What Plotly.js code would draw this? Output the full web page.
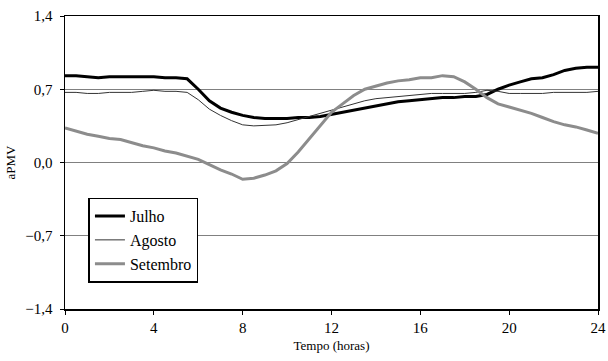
<!DOCTYPE html>
<html>
<head>
<meta charset="utf-8">
<script src="https://cdn.plot.ly/plotly-3.0.1.min.js"></script>
<style>html,body{margin:0;padding:0;background:#fff}#chart{width:608px;height:361px}</style>
</head>
<body>
<div id="chart"></div>
<script>
const hours = [0,0.5,1,1.5,2,2.5,3,3.5,4,4.5,5,5.5,6,6.5,7,7.5,8,8.5,9,9.5,10,10.5,11,11.5,12,12.5,13,13.5,14,14.5,15,15.5,16,16.5,17,17.5,18,18.5,19,19.5,20,20.5,21,21.5,22,22.5,23,23.5,24];
const julho = [0.83,0.83,0.82,0.81,0.82,0.82,0.82,0.82,0.82,0.81,0.81,0.80,0.70,0.59,0.52,0.48,0.45,0.43,0.42,0.42,0.42,0.43,0.43,0.44,0.46,0.48,0.50,0.52,0.54,0.56,0.58,0.59,0.60,0.61,0.62,0.62,0.63,0.63,0.65,0.70,0.74,0.77,0.80,0.81,0.84,0.88,0.90,0.91,0.91];
const agosto = [0.67,0.67,0.66,0.66,0.67,0.67,0.67,0.68,0.69,0.68,0.68,0.67,0.60,0.51,0.45,0.40,0.36,0.35,0.355,0.36,0.38,0.41,0.44,0.47,0.50,0.53,0.56,0.59,0.61,0.62,0.63,0.64,0.65,0.66,0.66,0.66,0.66,0.67,0.69,0.68,0.66,0.66,0.66,0.66,0.67,0.67,0.67,0.67,0.68];
const setembro = [0.33,0.30,0.27,0.25,0.23,0.22,0.19,0.16,0.14,0.11,0.09,0.06,0.03,-0.02,-0.07,-0.11,-0.16,-0.15,-0.12,-0.08,-0.01,0.10,0.23,0.36,0.48,0.56,0.64,0.70,0.73,0.76,0.78,0.79,0.81,0.81,0.83,0.82,0.77,0.70,0.62,0.56,0.53,0.50,0.47,0.43,0.39,0.36,0.34,0.31,0.28];
const seriesNames = ["Julho","Agosto","Setembro"];
const xTicks = [0,4,8,12,16,20,24];
const yTicks = [-1.4,-0.7,0,0.7,1.4];

const fam = "'Liberation Serif', serif";
const font = {family:fam, size:15, color:"#000"};
const traces = [
  {x:hours, y:julho, name:seriesNames[0], mode:"lines", line:{color:"#000", width:3}, legendgroup:"a"},
  {x:hours, y:agosto, name:seriesNames[1], mode:"lines", line:{color:"#333", width:1}, legendgroup:"b"},
  {x:hours, y:setembro, name:seriesNames[2], mode:"lines", line:{color:"#8c8c8c", width:3}, legendgroup:"c"}
];
const layout = {
  width:608, height:361,
  margin:{l:65, r:10, t:16, b:52},
  paper_bgcolor:"#fff", plot_bgcolor:"#fff",
  font:font,
  separators:", ",
  showlegend:true,
  legend:{x:0.044, y:0.38, xanchor:"left", yanchor:"top", bgcolor:"#fff", bordercolor:"#000", borderwidth:1.5,
    font:{family:fam, size:16, color:"#000"}, tracegroupgap:0, itemwidth:30},
  xaxis:{range:[0,24], tickvals:xTicks, ticks:"outside", ticklen:4, tickcolor:"#000", showgrid:false, zeroline:false,
    showline:true, linecolor:"#000", linewidth:1.5, mirror:true, tickfont:{family:fam, size:15, color:"#000"},
    title:{text:"Tempo (horas)", font:{family:fam, size:13, color:"#000"}, standoff:6}},
  yaxis:{range:[-1.4,1.4], tickvals:yTicks, tickformat:".1f", ticks:"outside", ticklen:4, tickcolor:"#000",
    showgrid:true, gridcolor:"#808080", gridwidth:1, zeroline:false, ticklabelstandoff:4,
    showline:true, linecolor:"#000", linewidth:1.5, mirror:true, tickfont:{family:fam, size:15, color:"#000"},
    title:{text:"aPMV", font:{family:fam, size:13, color:"#000"}, standoff:6}}
};
Plotly.newPlot("chart", traces, layout, {staticPlot:true, displayModeBar:false});
</script>
</body>
</html>
